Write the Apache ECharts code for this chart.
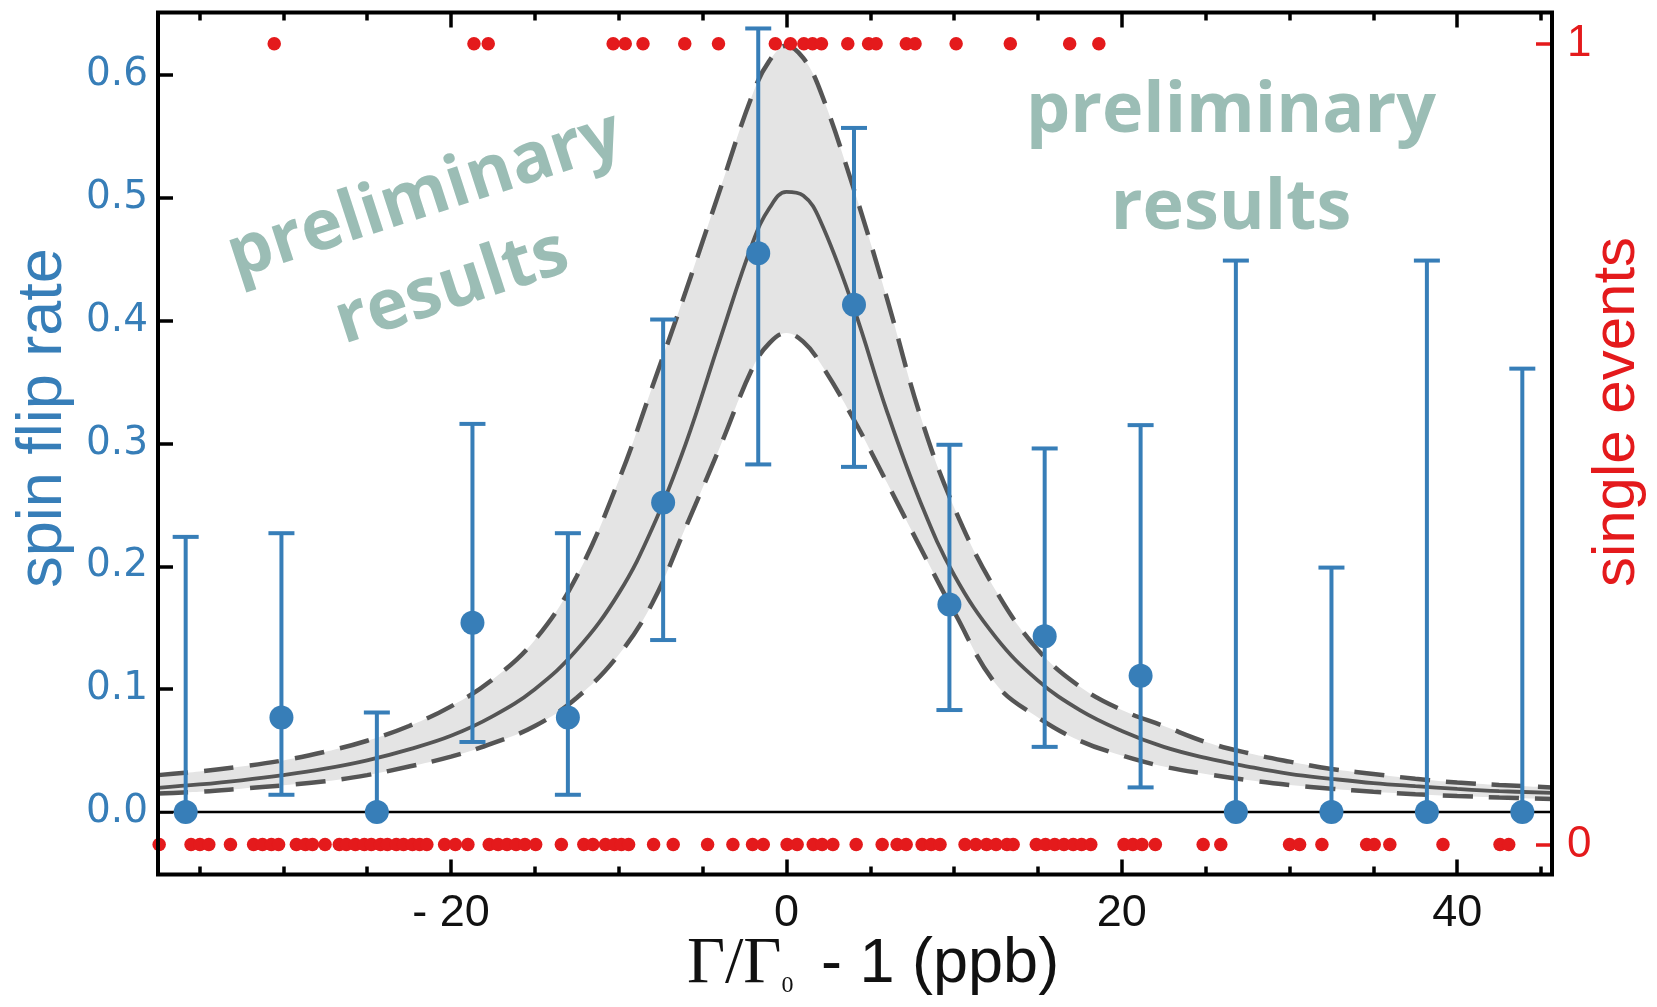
<!DOCTYPE html>
<html>
<head>
<meta charset="utf-8">
<script src="https://cdn.jsdelivr.net/npm/echarts@6/dist/echarts.min.js"></script>
<style>
  html, body { margin: 0; padding: 0; background: #fff; }
  #chart { width: 1657px; height: 1007px; }
</style>
</head>
<body>
<div id="chart"></div>
<script>
// Measured spin flip rate per detuning bin, with asymmetric uncertainties
const detuning = [-35.82, -30.11, -24.42, -18.72, -13.03, -7.35, -1.68, 4.03, 9.72, 15.40, 21.12, 26.80, 32.50, 38.19, 43.88];
const spinFlipRate = [0, 0.077, 0, 0.154, 0.077, 0.252, 0.455, 0.413, 0.169, 0.143, 0.111, 0, 0, 0, 0];
const rateLower = [0, 0.014, 0, 0.057, 0.014, 0.140, 0.283, 0.281, 0.083, 0.053, 0.020, 0, 0, 0, 0];
const rateUpper = [0.224, 0.227, 0.081, 0.316, 0.227, 0.401, 0.638, 0.557, 0.299, 0.296, 0.315, 0.449, 0.199, 0.449, 0.361];

// Resonance fit: central curve and confidence band edges
const fitX = [-37.47, -35, -32.5, -30, -27.5, -25, -22.5, -20, -17.5, -15, -12.5, -10, -8, -6, -4, -2, -1, 0, 1, 2, 4, 6, 8, 10, 12.5, 15, 17.5, 20, 22.5, 25, 27.5, 30, 32.5, 35, 37.5, 40, 42.5, 45.65];
const fitCentral = [0.0197, 0.0224, 0.0258, 0.030, 0.0352, 0.042, 0.051, 0.062, 0.078, 0.100, 0.132, 0.178, 0.231, 0.300, 0.383, 0.464, 0.492, 0.505, 0.502, 0.482, 0.411, 0.326, 0.252, 0.193, 0.142, 0.107, 0.083, 0.066, 0.053, 0.044, 0.037, 0.031, 0.027, 0.0235, 0.021, 0.0188, 0.017, 0.0155];
const fitHigh = [0.030, 0.033, 0.037, 0.042, 0.049, 0.058, 0.070, 0.086, 0.108, 0.140, 0.192, 0.270, 0.346, 0.424, 0.505, 0.585, 0.612, 0.624, 0.614, 0.588, 0.508, 0.418, 0.322, 0.248, 0.180, 0.132, 0.102, 0.083, 0.070, 0.057, 0.048, 0.041, 0.035, 0.031, 0.027, 0.024, 0.022, 0.020];
const fitLow = [0.015, 0.0165, 0.019, 0.0217, 0.025, 0.030, 0.037, 0.045, 0.056, 0.070, 0.093, 0.128, 0.170, 0.232, 0.296, 0.362, 0.382, 0.390, 0.383, 0.366, 0.320, 0.268, 0.215, 0.163, 0.104, 0.077, 0.058, 0.046, 0.037, 0.031, 0.026, 0.022, 0.019, 0.0165, 0.0145, 0.013, 0.0118, 0.0105];

// Single events: detunings of trials with a spin flip (1) and without (0)
const flipEvents = [-30.54, -18.63, -17.78, -10.33, -9.61, -8.55, -6.06, -4.05, -0.66, 0.24, 1.04, 1.56, 2.09, 3.66, 4.90, 5.35, 7.15, 7.67, 10.12, 13.35, 16.89, 18.63];
const noFlipEvents = [-37.4, -35.50, -34.97, -34.44, -33.15, -31.77, -31.24, -30.71, -30.28, -29.22, -28.68, -28.26, -27.51, -26.66, -26.24, -25.70, -25.17, -24.75, -24.21, -23.79, -23.26, -22.83, -22.30, -21.87, -21.44, -20.38, -19.74, -18.99, -17.72, -17.19, -16.66, -16.12, -15.59, -14.95, -13.42, -12.08, -11.54, -10.79, -10.26, -9.84, -9.41, -7.92, -6.75, -4.70, -3.19, -2.02, -1.38, 0.04, 0.64, 1.60, 2.13, 2.77, 4.16, 5.71, 6.60, 7.14, 8.09, 8.63, 9.16, 10.65, 11.29, 11.93, 12.50, 13.15, 13.52, 14.90, 15.45, 16.00, 16.55, 17.10, 17.60, 18.15, 20.13, 20.66, 21.20, 22.00, 24.85, 25.90, 30.00, 30.60, 31.93, 34.60, 35.05, 35.98, 39.15, 42.55, 43.07];

// Axis ticks and labels
const xMajorTicks = [-20, 0, 20, 40];
const xMinorTicks = [-35, -30, -25, -15, -10, -5, 5, 10, 15, 25, 30, 35, 45];
const rateTicks = [0, 0.1, 0.2, 0.3, 0.4, 0.5, 0.6];
const eventTicks = [0, 1];

const BLUE = '#377eb8';
const RED = '#e41a1c';
const GREY_LINE = '#555555';
const BAND = '#e4e4e4';
const NOTE = '#9bbdb5';
const X_MIN = -37.47, X_MAX = 45.65;
const SMOOTH = 0.4;

const chart = echarts.init(document.getElementById('chart'), null, { renderer: 'canvas' });

function xAxisDef(position, ticks, len, withLabels) {
  return {
    type: 'value', position: position, min: X_MIN, max: X_MAX,
    axisLine: { show: false, onZero: false },
    splitLine: { show: false },
    axisTick: { show: true, inside: true, length: len, customValues: ticks,
                lineStyle: { color: '#000', width: 3.5 } },
    axisLabel: withLabels ? {
      show: true, customValues: xMajorTicks, margin: 16,
      color: '#111', fontSize: 45, fontFamily: 'Liberation Sans Narrow, Liberation Sans, sans-serif',
      formatter: v => (v < 0 ? '- ' + Math.abs(v) : String(v))
    } : { show: false }
  };
}

const option = {
  animation: false,
  backgroundColor: '#fff',
  grid: { left: 158, right: 105, top: 12.5, bottom: 132.4, show: true, z: 20,
          borderColor: '#000', borderWidth: 4, backgroundColor: 'transparent' },
  xAxis: [
    xAxisDef('bottom', xMinorTicks, 8, true),
    xAxisDef('bottom', xMajorTicks, 15, false),
    xAxisDef('top', xMinorTicks, 8, false),
    xAxisDef('top', xMajorTicks, 15, false)
  ],
  yAxis: [
    {
      type: 'value', position: 'left', min: -0.051, max: 0.651,
      axisLine: { show: false, onZero: false }, splitLine: { show: false },
      axisTick: { show: true, inside: true, length: 15, customValues: rateTicks,
                  lineStyle: { color: '#000', width: 3.5 } },
      axisLabel: { show: true, customValues: rateTicks, margin: 10, color: BLUE,
                   fontSize: 39, fontFamily: 'DejaVu Sans, sans-serif',
                   formatter: v => v.toFixed(1) }
    },
    {
      type: 'value', position: 'right', min: -0.0377, max: 1.039,
      axisLine: { show: false, onZero: false }, splitLine: { show: false },
      axisTick: { show: true, inside: true, length: 16, customValues: eventTicks,
                  lineStyle: { color: RED, width: 3.5 } },
      axisLabel: { show: true, customValues: eventTicks, margin: 15, color: RED,
                   fontSize: 44, fontFamily: 'Liberation Sans Narrow, Liberation Sans, sans-serif' }
    }
  ],
  series: [
    // confidence band: grey up to the upper edge, then cleared below the lower edge
    {
      type: 'line', name: 'band', smooth: SMOOTH, symbol: 'none', silent: true, z: 1,
      data: fitX.map((x, i) => [x, fitHigh[i]]),
      lineStyle: { width: 0, opacity: 0 }, areaStyle: { color: BAND, opacity: 1 }
    },
    {
      type: 'line', name: 'band-clear', smooth: SMOOTH, symbol: 'none', silent: true, z: 1,
      data: fitX.map((x, i) => [x, fitLow[i]]),
      lineStyle: { width: 0, opacity: 0 }, areaStyle: { color: '#ffffff', opacity: 1 }
    },
    {
      type: 'line', name: 'upper', smooth: SMOOTH, symbol: 'none', silent: true, z: 2,
      data: fitX.map((x, i) => [x, fitHigh[i]]),
      lineStyle: { color: GREY_LINE, width: 4.5, type: [30, 16] }
    },
    {
      type: 'line', name: 'lower', smooth: SMOOTH, symbol: 'none', silent: true, z: 2,
      data: fitX.map((x, i) => [x, fitLow[i]]),
      lineStyle: { color: GREY_LINE, width: 4.5, type: [30, 16] }
    },
    {
      type: 'line', name: 'fit', smooth: SMOOTH, symbol: 'none', silent: true, z: 3,
      data: fitX.map((x, i) => [x, fitCentral[i]]),
      lineStyle: { color: GREY_LINE, width: 3.8 },
      markLine: {
        silent: true, symbol: 'none', label: { show: false },
        lineStyle: { color: '#000', width: 2.4, type: 'solid' },
        data: [{ yAxis: 0 }]
      }
    },
    // error bars
    {
      type: 'custom', name: 'errors', z: 4,
      data: detuning.map((x, i) => [x, rateLower[i], rateUpper[i], spinFlipRate[i]]),
      encode: { x: 0, y: [1, 2] },
      renderItem: function (params, api) {
        const x = api.value(0);
        const lo = api.coord([x, api.value(1)]);
        const hi = api.coord([x, api.value(2)]);
        const hasLow = api.value(1) < api.value(3);
        const cap = 13;
        const style = { stroke: BLUE, lineWidth: 4 };
        const children = [
          { type: 'line', shape: { x1: lo[0], y1: lo[1], x2: hi[0], y2: hi[1] }, style: style },
          { type: 'line', shape: { x1: hi[0] - cap, y1: hi[1], x2: hi[0] + cap, y2: hi[1] }, style: style }
        ];
        if (hasLow) {
          children.push({ type: 'line', shape: { x1: lo[0] - cap, y1: lo[1], x2: lo[0] + cap, y2: lo[1] }, style: style });
        }
        return { type: 'group', children: children };
      }
    },
    {
      type: 'scatter', name: 'rate', z: 5, symbolSize: 24,
      itemStyle: { color: BLUE, opacity: 1 },
      data: detuning.map((x, i) => [x, spinFlipRate[i]])
    },
    {
      type: 'scatter', name: 'flip', yAxisIndex: 1, z: 5, symbolSize: 13.5,
      itemStyle: { color: RED, opacity: 1 },
      data: flipEvents.map(x => [x, 1])
    },
    {
      type: 'scatter', name: 'no flip', yAxisIndex: 1, z: 5, symbolSize: 13.5,
      itemStyle: { color: RED, opacity: 1 },
      data: noFlipEvents.map(x => [x, 0])
    }
  ],
  graphic: [
    { type: 'text', x: 44, y: 418, rotation: Math.PI / 2, z: 10,
      style: { text: 'spin flip rate', fill: BLUE, font: '63px "Liberation Sans Narrow", "Liberation Sans", sans-serif',
               align: 'center', verticalAlign: 'middle' } },
    { type: 'text', x: 1617, y: 412, rotation: Math.PI / 2, z: 10,
      style: { text: 'single events', fill: RED, font: '60px "Liberation Sans Narrow", "Liberation Sans", sans-serif',
               align: 'center', verticalAlign: 'middle' } },
    { type: 'text', x: 873, y: 965, z: 10,
      style: {
        text: '{g|Γ/Γ}{s|0}{t| - 1 (ppb)}',
        align: 'center', verticalAlign: 'middle',
        rich: {
          g: { font: '66px "Liberation Serif", "DejaVu Serif", serif', fill: '#111' },
          s: { font: '24px "Liberation Serif", serif', fill: '#111', verticalAlign: 'bottom', padding: [0, 10, 0, 0] },
          t: { font: '63px "Liberation Sans Narrow", "Liberation Sans", sans-serif', fill: '#111' }
        }
      } },
    { type: 'text', x: 425, y: 196, rotation: 18 * Math.PI / 180, z: 10,
      style: { text: 'preliminary', fill: NOTE, font: 'bold 70px "Open Sans", sans-serif',
               align: 'center', verticalAlign: 'middle' } },
    { type: 'text', x: 452, y: 288, rotation: 18 * Math.PI / 180, z: 10,
      style: { text: 'results', fill: NOTE, font: 'bold 70px "Open Sans", sans-serif',
               align: 'center', verticalAlign: 'middle' } },
    { type: 'text', x: 1231, y: 112, z: 10,
      style: { text: 'preliminary', fill: NOTE, font: 'bold 70px "Open Sans", sans-serif',
               align: 'center', verticalAlign: 'middle' } },
    { type: 'text', x: 1231, y: 209, z: 10,
      style: { text: 'results', fill: NOTE, font: 'bold 70px "Open Sans", sans-serif',
               align: 'center', verticalAlign: 'middle' } }
  ]
};

chart.setOption(option);
</script>
</body>
</html>
